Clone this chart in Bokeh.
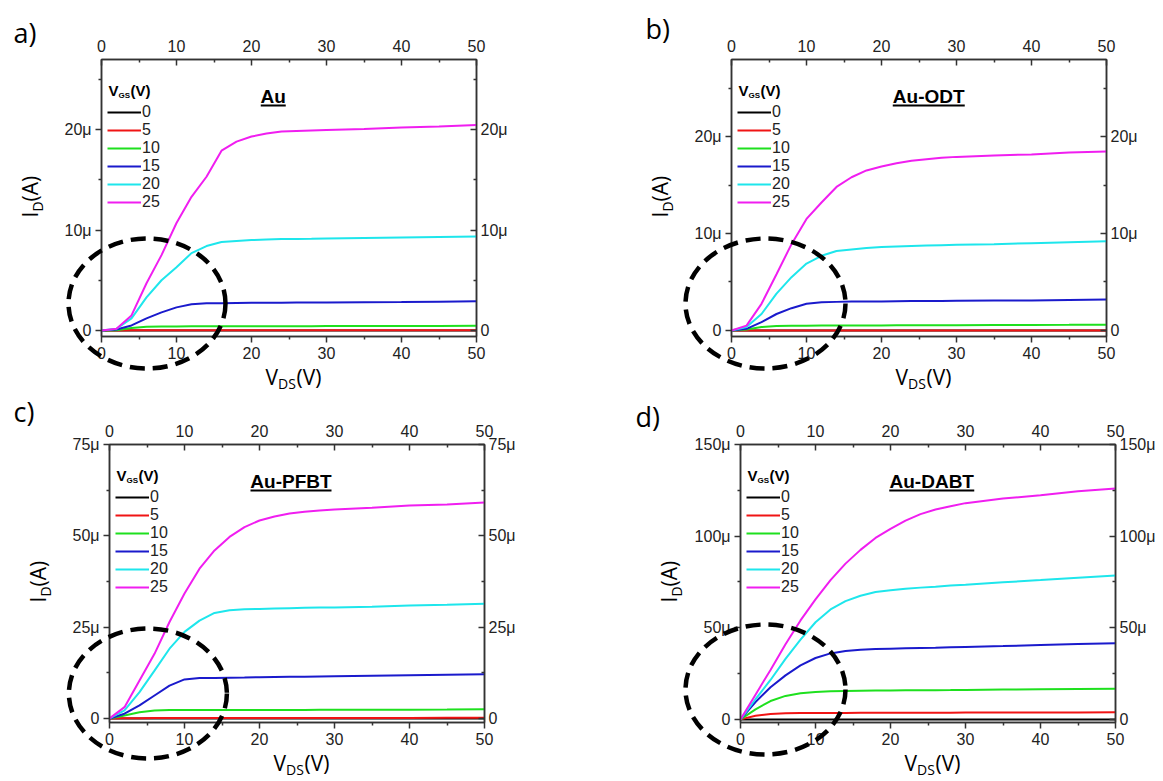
import math
from bokeh.plotting import figure
from bokeh.models import (LinearAxis, FixedTicker, CustomJSTickFormatter, Label, Legend,
                          LegendItem, Range1d, GridBox)
from bokeh.layouts import column, row
from bokeh.embed import file_html
from bokeh.resources import INLINE

# ---------------- data (I_D in microamps) ----------------
vds = [0, 2, 4, 6, 8, 10, 12, 14, 16, 18, 20, 22, 24, 26, 28, 30, 35, 40, 45, 50]
vgs_labels = ["0", "5", "10", "15", "20", "25"]

a_vgs0 = [0, 0, 0, 0, 0, 0, 0, 0, 0, 0, 0, 0, 0, 0, 0, 0, 0, 0, 0, 0]
a_vgs5 = [0, 0, 0.01, 0.01, 0.01, 0.01, 0.01, 0.01, 0.01, 0.01, 0.01, 0.01, 0.01, 0.01, 0.01, 0.01, 0.01, 0.01, 0.01, 0.01]
a_vgs10 = [0, 0.03, 0.25, 0.37, 0.40, 0.40, 0.41, 0.41, 0.42, 0.42, 0.42, 0.43, 0.43, 0.43, 0.43, 0.44, 0.44, 0.45, 0.45, 0.46]
a_vgs15 = [0, 0.10, 0.50, 1.20, 1.80, 2.30, 2.60, 2.70, 2.72, 2.74, 2.75, 2.76, 2.77, 2.78, 2.78, 2.79, 2.81, 2.83, 2.86, 2.90]
a_vgs20 = [0, 0.17, 1.20, 3.30, 5.00, 6.30, 7.70, 8.40, 8.80, 8.90, 9.00, 9.05, 9.10, 9.10, 9.12, 9.15, 9.20, 9.25, 9.30, 9.35]
a_vgs25 = [0, 0.17, 1.50, 4.70, 7.50, 10.70, 13.30, 15.30, 17.90, 18.80, 19.30, 19.60, 19.80, 19.85, 19.90, 19.95, 20.05, 20.20, 20.30, 20.45]

b_vgs0 = [0, 0, 0, 0, 0, 0, 0, 0, 0, 0, 0, 0, 0, 0, 0, 0, 0, 0, 0, 0]
b_vgs5 = [0, 0, 0.01, 0.01, 0.01, 0.01, 0.01, 0.01, 0.01, 0.01, 0.01, 0.01, 0.01, 0.01, 0.01, 0.01, 0.01, 0.01, 0.01, 0.01]
b_vgs10 = [0, 0.10, 0.35, 0.45, 0.50, 0.50, 0.51, 0.51, 0.52, 0.52, 0.52, 0.53, 0.53, 0.54, 0.54, 0.55, 0.56, 0.57, 0.58, 0.60]
b_vgs15 = [0, 0.17, 0.86, 1.70, 2.30, 2.75, 2.90, 2.95, 2.98, 3.00, 3.00, 3.02, 3.03, 3.04, 3.05, 3.06, 3.08, 3.10, 3.15, 3.20]
b_vgs20 = [0, 0.35, 1.70, 3.80, 5.50, 6.90, 7.70, 8.20, 8.35, 8.50, 8.60, 8.65, 8.70, 8.75, 8.80, 8.85, 8.90, 9.00, 9.10, 9.20]
b_vgs25 = [0, 0.50, 2.75, 5.80, 8.90, 11.50, 13.20, 14.80, 15.80, 16.50, 16.90, 17.25, 17.50, 17.65, 17.80, 17.90, 18.05, 18.15, 18.35, 18.45]

c_vgs0 = [0, 0, 0, 0, 0, 0, 0, 0, 0, 0, 0, 0, 0, 0, 0, 0, 0, 0, 0, 0]
c_vgs5 = [0, 0.05, 0.08, 0.10, 0.10, 0.10, 0.11, 0.11, 0.12, 0.12, 0.12, 0.13, 0.13, 0.13, 0.14, 0.14, 0.15, 0.16, 0.17, 0.18]
c_vgs10 = [0, 0.80, 1.70, 2.20, 2.30, 2.30, 2.30, 2.30, 2.30, 2.31, 2.32, 2.33, 2.34, 2.35, 2.36, 2.37, 2.40, 2.42, 2.45, 2.50]
c_vgs15 = [0, 1.30, 3.60, 6.30, 9.00, 10.70, 11.10, 11.10, 11.15, 11.20, 11.30, 11.35, 11.40, 11.45, 11.50, 11.55, 11.70, 11.85, 12.00, 12.10]
c_vgs20 = [0, 2.20, 7.20, 13.10, 19.10, 23.70, 26.80, 28.90, 29.60, 29.90, 30.00, 30.10, 30.20, 30.30, 30.35, 30.40, 30.60, 30.90, 31.10, 31.40]
c_vgs25 = [0, 3.10, 10.40, 17.70, 26.40, 34.20, 41.00, 46.00, 49.70, 52.40, 54.20, 55.30, 56.10, 56.60, 56.90, 57.20, 57.70, 58.30, 58.60, 59.10]

d_vgs0 = [0, 0, 0, 0, 0, 0, 0, 0, 0, 0, 0, 0, 0, 0, 0, 0, 0, 0, 0, 0]
d_vgs5 = [0, 2.0, 3.0, 3.3, 3.45, 3.5, 3.52, 3.55, 3.57, 3.6, 3.6, 3.62, 3.64, 3.66, 3.68, 3.7, 3.72, 3.75, 3.8, 3.9]
d_vgs10 = [0, 5.5, 10.0, 12.8, 14.3, 15.0, 15.3, 15.5, 15.6, 15.7, 15.8, 15.85, 15.9, 15.95, 16.0, 16.1, 16.25, 16.4, 16.55, 16.7]
d_vgs15 = [0, 9.5, 17.5, 24.0, 29.5, 33.5, 36.0, 37.3, 38.0, 38.4, 38.6, 38.8, 39.0, 39.1, 39.3, 39.5, 40.0, 40.6, 41.1, 41.5]
d_vgs20 = [0, 11.0, 21.5, 33.0, 43.5, 53.0, 60.0, 64.5, 67.5, 69.5, 70.5, 71.3, 71.9, 72.4, 73.0, 73.5, 74.8, 76.0, 77.3, 78.5]
d_vgs25 = [0, 13.5, 27.0, 41.0, 54.0, 65.5, 76.0, 85.0, 92.5, 99.0, 104.0, 108.5, 112.0, 114.5, 116.3, 118.0, 120.5, 122.3, 124.5, 126.0]

x_ticks = [0, 10, 20, 30, 40, 50]
x_minor = [5, 15, 25, 35, 45]
a_yticks = [0, 10, 20]
a_yminor = [5, 15, 25]
b_yticks = [0, 10, 20]
b_yminor = [5, 15, 25]
c_yticks = [0, 25, 50, 75]
c_yminor = [12.5, 37.5, 62.5]
d_yticks = [0, 50, 100, 150]
d_yminor = [25, 75, 125]

titles = ["Au", "Au-ODT", "Au-PFBT", "Au-DABT"]
letters = ["a)", "b)", "c)", "d)"]

# ---------------- styling / layout constants ----------------
COLORS = ["#000000", "#f01414", "#1ee01e", "#1a1acc", "#1ee6ec", "#f01ef0"]
AX = "#333333"
TICKFONT = "Liberation Sans"
TITLEFONT = "Open Sans"
FRAME_W = 375
TOTAL_W, TOTAL_H = 1160, 780
COL_W = [620, 540]
ROW_H = [392, 388]

X_FMT = "return tick.toFixed(0);"
Y_FMT = "return tick == 0 ? '0' : tick.toFixed(0) + '\u03bc';"


def style_axis(ax, ticks, minor, inward, standoff, code):
    ax.ticker = FixedTicker(ticks=ticks, minor_ticks=minor)
    ax.formatter = CustomJSTickFormatter(code=code)
    ax.axis_line_color = AX
    ax.axis_line_width = 1.5
    ax.major_tick_line_color = AX
    ax.major_tick_line_width = 1.5
    ax.minor_tick_line_color = AX
    ax.minor_tick_line_width = 1.5
    if inward:
        ax.major_tick_in, ax.major_tick_out = 6, 0
        ax.minor_tick_in, ax.minor_tick_out = 3, 0
    else:
        ax.major_tick_in, ax.major_tick_out = 0, 6
        ax.minor_tick_in, ax.minor_tick_out = 0, 3
    ax.major_label_standoff = standoff
    ax.major_label_text_font = TICKFONT
    ax.major_label_text_font_size = "16px"
    ax.major_label_text_color = "#222222"


def panel(series, yr, yticks, yminor, title, title_x, ul_w, W, H, bl, br, bt, bb):
    ymin, ymax = yr
    p = figure(width=W, height=H, x_range=Range1d(0, 50), y_range=Range1d(ymin, ymax),
               output_backend="svg", toolbar_location=None,
               min_border_left=bl, min_border_right=br, min_border_top=bt, min_border_bottom=bb)
    frame_h = H - bt - bb
    pxx = FRAME_W / 50.0
    pxy = frame_h / (ymax - ymin)
    p.xgrid.visible = False
    p.ygrid.visible = False
    p.outline_line_color = AX
    p.outline_line_width = 1.5

    top = LinearAxis()
    right = LinearAxis()
    p.add_layout(top, "above")
    p.add_layout(right, "right")
    style_axis(p.below[0], x_ticks, x_minor, False, 4, X_FMT)
    style_axis(p.left[0], yticks, yminor, False, 4, Y_FMT)
    style_axis(top, x_ticks, x_minor, True, 8, X_FMT)
    style_axis(right, yticks, yminor, True, 4, Y_FMT)

    rends = []
    for vals, c in zip(series, COLORS):
        rends.append(p.line(vds, vals, line_color=c, line_width=2))

    legend = Legend(items=[LegendItem(label=l, renderers=[r]) for l, r in zip(vgs_labels, rends)],
                    location=(6, frame_h - 152), orientation="vertical",
                    glyph_width=34, glyph_height=18, label_height=18, spacing=0, padding=0,
                    margin=0, label_standoff=1, border_line_alpha=0, background_fill_alpha=0,
                    label_text_font=TICKFONT, label_text_font_size="16px",
                    label_text_color="#222222")
    p.add_layout(legend)

    def lab(text, dx, dy, size, bold=False, align="left", x=0):
        p.add_layout(Label(x=x, y=ymax, x_offset=dx, y_offset=-dy, text=text, text_font=TICKFONT,
                           text_font_size=f"{size}px",
                           text_font_style="bold" if bold else "normal",
                           text_align=align, text_baseline="middle", text_color="black"))

    # legend heading V_GS(V)
    lab("V", 7, 31, 15, bold=True)
    lab("GS", 17, 36, 8, bold=True)
    lab("(V)", 29, 31, 15, bold=True)

    # underlined panel title
    lab(title, 0, 37, 19, bold=True, align="center", x=title_x)
    uy = ymax - 46 / pxy
    p.segment(x0=[title_x - ul_w / 2 / pxx], y0=[uy], x1=[title_x + ul_w / 2 / pxx], y1=[uy],
              line_color="black", line_width=2)
    return p


# figure borders (left, right, top, bottom)
pa = panel([a_vgs0, a_vgs5, a_vgs10, a_vgs15, a_vgs20, a_vgs25], (-0.6, 26.97), a_yticks, a_yminor,
           titles[0], 22.9, 25, COL_W[0], ROW_H[0], 101, 144, 59, 56)
pb = panel([b_vgs0, b_vgs5, b_vgs10, b_vgs15, b_vgs20, b_vgs25], (-0.62, 27.94), b_yticks, b_yminor,
           titles[1], 26.3, 72, COL_W[1], ROW_H[0], 111, 54, 59, 56)
pc = panel([c_vgs0, c_vgs5, c_vgs10, c_vgs15, c_vgs20, c_vgs25], (-1.1, 75.0), c_yticks, c_yminor,
           titles[2], 24.2, 81, COL_W[0], ROW_H[1], 109, 136, 52, 58)
pd = panel([d_vgs0, d_vgs5, d_vgs10, d_vgs15, d_vgs20, d_vgs25], (-1.7, 150.0), d_yticks, d_yminor,
           titles[3], 25.5, 85, COL_W[1], ROW_H[1], 120, 45, 52, 58)

content = column(row(pa, pb, spacing=0), row(pc, pd, spacing=0), spacing=0)

# ---------------- transparent overlay (page pixel coordinates) ----------------
ov = figure(width=TOTAL_W, height=TOTAL_H, x_range=Range1d(0, TOTAL_W), y_range=Range1d(TOTAL_H, 0),
            output_backend="svg", toolbar_location=None, x_axis_location=None, y_axis_location=None,
            min_border=0, outline_line_color=None)
ov.xgrid.visible = False
ov.ygrid.visible = False
ov.background_fill_color = None
ov.border_fill_color = None

# frame origins (left, top) and heights of the four panels on the page
frames = [(101, 59, 277), (731, 59, 277), (109, 444, 278), (740, 444, 278)]
letter_offsets = [(-88, -27), (-86, -31), (-96, -33), (-105, -28)]
# dashed ellipse: centre offset from frame top-left, width, height (pixels)
ellipses = [(45.5, 244, 157, 130), (34, 244, 160, 130), (38.4, 249, 158, 130), (25, 245, 160, 130)]


def olab(text, x, y, size, angle=0.0):
    ov.add_layout(Label(x=x, y=y, text=text, text_font=TITLEFONT, text_font_size=f"{size}px",
                        angle=angle, text_align="left", text_baseline="middle",
                        text_color="black"))


for (fx, fy, fh), let, (lx, ly), (ecx, ecy, ew, eh) in zip(frames, letters, letter_offsets, ellipses):
    olab(let, fx + lx, fy + ly, 27)
    a90 = math.pi / 2
    olab("I", fx - 72, fy + 158, 21, angle=a90)
    olab("D", fx - 64, fy + 152, 14, angle=a90)
    olab("(A)", fx - 72, fy + 142, 21, angle=a90)
    olab("V", fx + 164, fy + fh + 40, 21)
    olab("DS", fx + 176.5, fy + fh + 47, 14)
    olab("(V)", fx + 195, fy + fh + 40, 21)
    ov.ellipse(x=[fx + ecx], y=[fy + ecy], width=[ew], height=[eh], fill_color=None,
               line_color="black", line_width=4.5, line_dash="15 8")

grid = GridBox(children=[(content, 0, 0), (ov, 0, 0)], spacing=0)
open("out.html", "w").write(file_html(grid, INLINE))
